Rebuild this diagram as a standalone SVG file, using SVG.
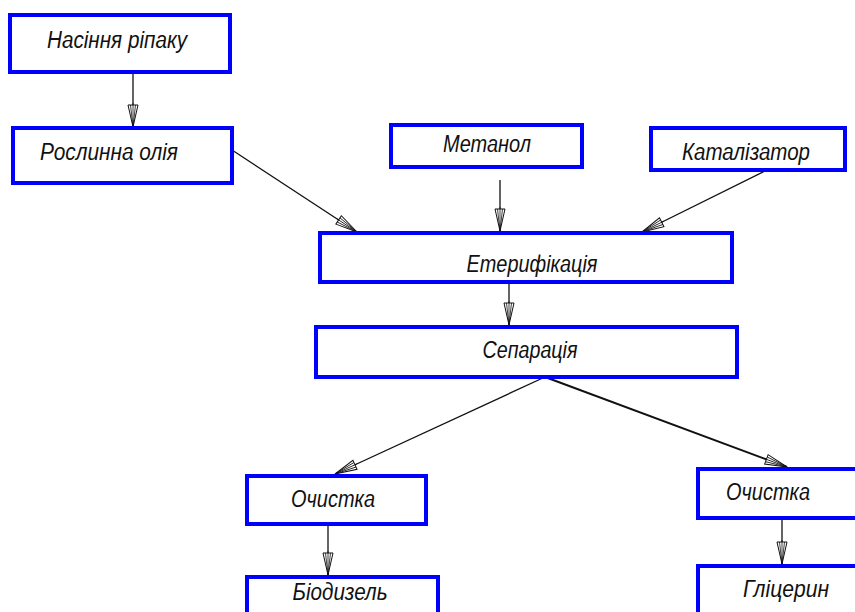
<svg xmlns="http://www.w3.org/2000/svg" width="855" height="612" viewBox="0 0 855 612">
<style>
.box{fill:#fff;stroke:#0000ff;stroke-width:4}
.t{font-family:"Liberation Sans",Arial,sans-serif;font-style:italic;font-size:23px;fill:#111;text-anchor:middle}
.c{stroke:#111;stroke-width:1.3;fill:none}
</style>
<defs>
<marker id="ah" markerUnits="userSpaceOnUse" markerWidth="26" markerHeight="14" refX="24" refY="7" orient="auto" overflow="visible">
<path d="M24,7 L2,2 L2,12 Z" fill="#fff" stroke="#111" stroke-width="1"/>
<path d="M24,7 L2,4.5 M24,7 L2,9.5 M24,7 L0,7" stroke="#111" stroke-width="0.8" fill="none"/>
</marker>
</defs>
<rect width="855" height="612" fill="#fff"/>
<g id="connectors">
<line class="c" x1="133" y1="72" x2="133" y2="127" marker-end="url(#ah)"/>
<line class="c" x1="232" y1="150" x2="357" y2="232" marker-end="url(#ah)"/>
<line class="c" x1="500" y1="180" x2="500" y2="231" marker-end="url(#ah)"/>
<line class="c" x1="765" y1="171" x2="642" y2="232" marker-end="url(#ah)"/>
<line class="c" x1="509" y1="282" x2="509" y2="325" marker-end="url(#ah)"/>
<line class="c" x1="545" y1="377" x2="335" y2="474" marker-end="url(#ah)"/>
<line class="c" x1="545" y1="377" x2="787" y2="467" marker-end="url(#ah)" style="stroke-width:2"/>
<line class="c" x1="328" y1="524" x2="328" y2="575" marker-end="url(#ah)"/>
<line class="c" x1="782" y1="518" x2="782" y2="564" marker-end="url(#ah)"/>
</g>
<g id="n1"><rect class="box" x="10" y="15" width="220" height="57"/><text class="t" x="117" y="48" textLength="140" lengthAdjust="spacingAndGlyphs">Насіння ріпаку</text></g>
<g id="n2"><rect class="box" x="13" y="128" width="219" height="55"/><text class="t" x="109" y="160" textLength="138" lengthAdjust="spacingAndGlyphs">Рослинна олія</text></g>
<g id="n3"><rect class="box" x="391" y="125" width="191" height="42"/><text class="t" x="487" y="152" textLength="88" lengthAdjust="spacingAndGlyphs">Метанол</text></g>
<g id="n4"><rect class="box" x="651" y="128" width="194" height="42"/><text class="t" x="746" y="160" textLength="128" lengthAdjust="spacingAndGlyphs">Каталізатор</text></g>
<g id="n5"><rect class="box" x="320" y="233" width="412" height="49"/><text class="t" x="532" y="272" textLength="131" lengthAdjust="spacingAndGlyphs">Етерифікація</text></g>
<g id="n6"><rect class="box" x="316" y="327" width="421" height="50"/><text class="t" x="530" y="358" textLength="95" lengthAdjust="spacingAndGlyphs">Сепарація</text></g>
<g id="n7"><rect class="box" x="247" y="476" width="179" height="48"/><text class="t" x="333" y="507" textLength="84" lengthAdjust="spacingAndGlyphs">Очистка</text></g>
<g id="n8"><rect class="box" x="247" y="577" width="191" height="40"/><text class="t" x="340" y="600" textLength="95" lengthAdjust="spacingAndGlyphs">Біодизель</text></g>
<g id="n9"><rect class="box" x="698" y="469" width="160" height="49"/><text class="t" x="768" y="500" textLength="84" lengthAdjust="spacingAndGlyphs">Очистка</text></g>
<g id="n10"><rect class="box" x="698" y="566" width="160" height="50"/><text class="t" x="786" y="597" textLength="86" lengthAdjust="spacingAndGlyphs">Гліцерин</text></g>
</svg>
